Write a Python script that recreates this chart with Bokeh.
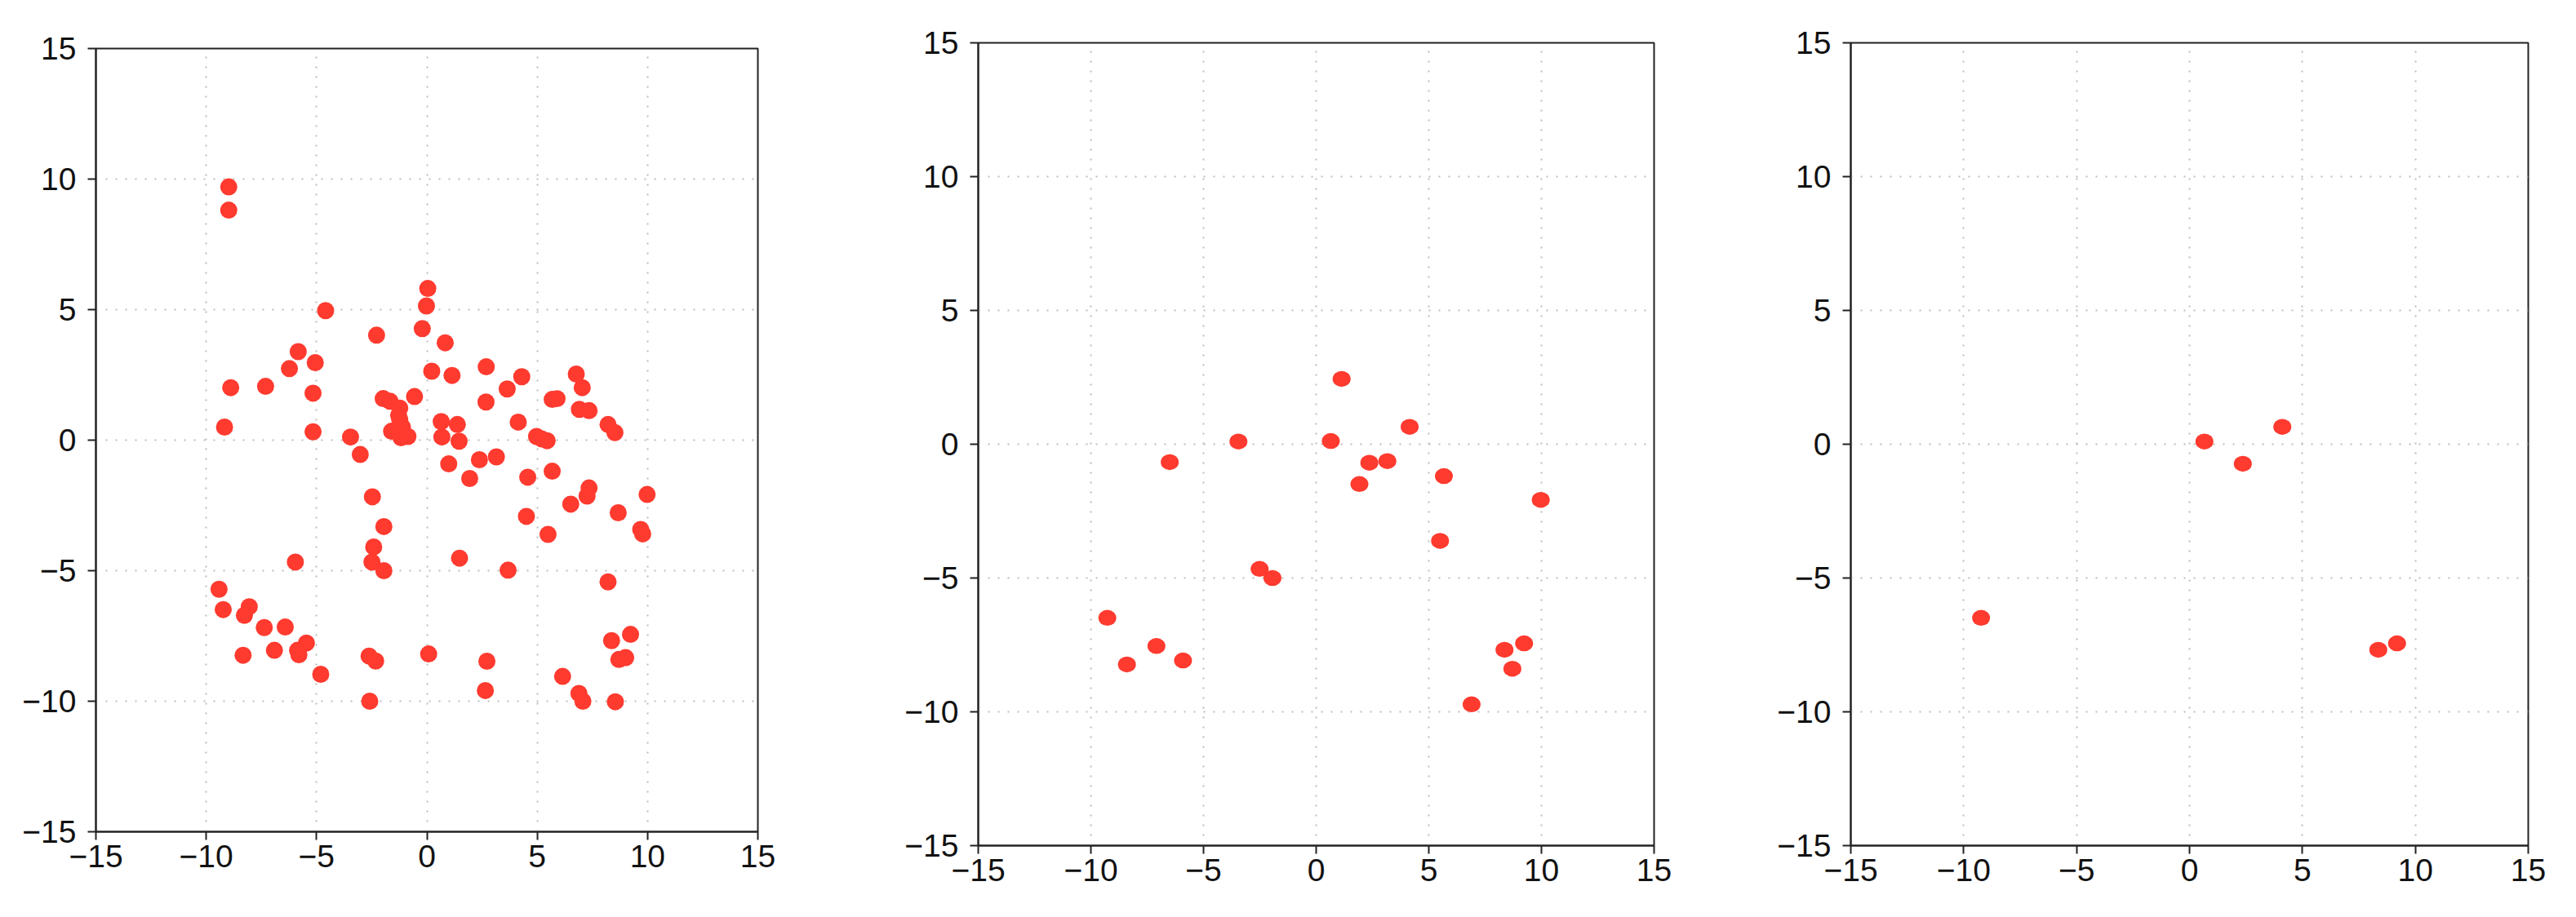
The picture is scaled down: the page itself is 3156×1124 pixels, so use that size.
from bokeh.plotting import figure
from bokeh.layouts import row, column
from bokeh.models import Range1d, FixedTicker
from bokeh.embed import file_html
from bokeh.resources import INLINE

# ---- data ----
tick_values = [-15, -10, -5, 0, 5, 10, 15]
tick_labels = ["\u221215", "\u221210", "\u22125", "0", "5", "10", "15"]

p1_x = [-8.98, -8.98, -4.59, -2.28, 0.04, -0.02, -0.21, -5.83, -6.23, -5.06,
        0.22, -8.89, -7.31, -5.16, -1.98, -1.67, -1.23, -0.56, -1.28, -1.23,
        -1.60, -1.11, -1.17, -0.86, -9.17, -5.16, -3.46, -3.02, 0.83, 1.14,
        2.69, 2.68, 3.64, 4.30, 6.77, 7.04, 5.68, 5.90, 6.91, 7.35,
        8.21, 8.52, 0.65, 1.38, 4.14, 4.97, 5.20, 5.45, 0.68, 1.46,
        0.99, 2.38, 3.15, 1.94, 4.57, 5.68, 7.35, 7.26, 6.52, 8.67,
        9.98, 9.69, 9.78, 4.51, 5.49, 1.48, 3.68, 8.21, 9.23, 8.37,
        8.70, 9.01, 0.08, 2.72, 2.65, 6.15, 6.89, 7.07, 8.54, -2.47,
        -1.95, -2.41, -2.49, -1.95, -5.96, -9.42, -9.23, -8.05, -8.27, -7.37,
        -6.42, -6.91, -5.86, -5.46, -5.80, -8.33, -4.81, -2.62, -2.32, -2.59]
p1_y = [9.70, 8.81, 4.96, 4.02, 5.81, 5.14, 4.27, 3.39, 2.74, 2.97,
        2.64, 2.01, 2.06, 1.80, 1.59, 1.49, 1.23, 1.67, 0.95, 0.78,
        0.34, 0.50, 0.09, 0.14, 0.50, 0.32, 0.12, -0.55, 3.73, 2.48,
        2.81, 1.46, 1.96, 2.43, 2.53, 2.01, 1.56, 1.59, 1.18, 1.13,
        0.60, 0.29, 0.71, 0.60, 0.69, 0.14, 0.05, -0.02, 0.12, -0.04,
        -0.91, -0.75, -0.64, -1.47, -1.42, -1.19, -1.83, -2.14, -2.45, -2.78,
        -2.08, -3.42, -3.59, -2.92, -3.61, -4.52, -4.98, -5.43, -7.44, -7.68,
        -8.40, -8.33, -8.19, -8.47, -9.59, -9.05, -9.70, -10.00, -10.02, -2.17,
        -3.31, -4.09, -4.67, -5.00, -4.67, -5.71, -6.49, -6.38, -6.71, -7.18,
        -7.16, -8.05, -8.05, -7.77, -8.22, -8.24, -8.97, -8.27, -8.46, -10.00]

p2_x = [1.13, -3.45, 0.65, 4.15, -6.50, 2.36, 3.16, 1.92, 5.67, 9.97,
        5.50, -2.51, -1.94, -9.27, -8.40, -7.09, -5.91, 8.36, 9.23, 8.71, 6.90]
p2_y = [2.44, 0.10, 0.12, 0.65, -0.67, -0.69, -0.63, -1.49, -1.19, -2.08,
        -3.61, -4.66, -5.00, -6.49, -8.23, -7.54, -8.08, -7.68, -7.44, -8.39, -9.72]

p3_x = [0.66, 2.36, 4.11, -9.23, 8.36, 9.19]
p3_y = [0.10, -0.73, 0.65, -6.49, -7.68, -7.44]

DOT = "#ff3a2f"
AX = "#222222"


def make_panel(xs, ys, fw, fh, bl, bt, br, bb, dot_w, dot_h):
    p = figure(frame_width=fw, frame_height=fh,
               x_range=Range1d(-15, 15), y_range=Range1d(-15, 15),
               output_backend="svg", toolbar_location=None,
               min_border_left=bl, min_border_top=bt,
               min_border_right=br, min_border_bottom=bb)
    p.background_fill_color = "white"
    p.border_fill_color = "white"
    p.outline_line_color = AX
    p.outline_line_width = 2
    for ax in (p.xaxis[0], p.yaxis[0]):
        ax.ticker = FixedTicker(ticks=tick_values)
        ax.major_label_overrides = {v: s for v, s in zip(tick_values, tick_labels)}
        ax.axis_line_color = AX
        ax.axis_line_width = 2
        ax.major_tick_line_color = AX
        ax.major_tick_line_width = 2
        ax.major_tick_out = 10
        ax.major_tick_in = 0
        ax.minor_tick_line_color = None
        ax.major_label_text_font = "Liberation Sans"
        ax.major_label_text_font_size = "39px"
        ax.major_label_text_color = "#111111"
    p.xaxis.major_label_standoff = 6
    p.yaxis.major_label_standoff = 14
    for g in (p.xgrid[0], p.ygrid[0]):
        g.ticker = FixedTicker(ticks=[-10, -5, 0, 5, 10])
        g.grid_line_color = "#bdbdbd"
        g.grid_line_width = 2
        g.grid_line_dash = "2 10"
    p.ellipse(x=xs, y=ys, width=dot_w, height=dot_h,
              width_units="screen", height_units="screen",
              fill_color=DOT, line_color=None)
    return p


p1 = make_panel(p1_x, p1_y, 811, 960, 117, 59, 172, 81, 21, 21)
p2 = make_panel(p2_x, p2_y, 828, 984, 98, 52, 134, 64, 22, 19.5)
p3 = make_panel(p3_x, p3_y, 830, 984, 107, 52, 43, 64, 22, 19.5)

layout = row(column(p1), column(p2), column(p3), spacing=0)

open("out.html", "w").write(file_html(layout, INLINE))
